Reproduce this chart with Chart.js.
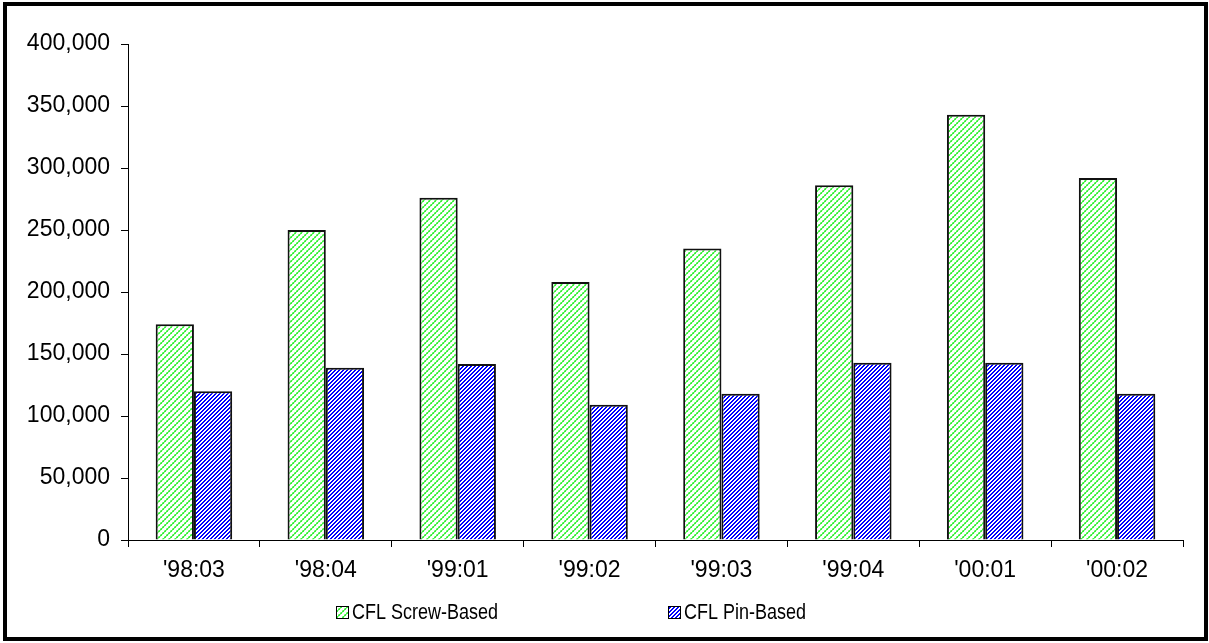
<!DOCTYPE html>
<html>
<head>
<meta charset="utf-8">
<script src="https://cdn.jsdelivr.net/npm/chart.js@4/dist/chart.umd.min.js"></script>
<style>
  html, body { margin: 0; padding: 0; background: #fff; }
  #wrap { position: relative; width: 1209px; height: 643px; }
  canvas { display: block; }
</style>
</head>
<body>
<div id="wrap"><canvas id="c" width="1209" height="643"></canvas></div>
<script>
// Quarterly shipments of compact fluorescent lamps
const quarters = ["'98:03", "'98:04", "'99:01", "'99:02", "'99:03", "'99:04", "'00:01", "'00:02"];
const screwBased = [174000, 250000, 276000, 208000, 235000, 286000, 343000, 292000];
const pinBased = [120000, 139000, 142000, 109000, 118000, 143000, 143000, 118000];
const seriesNames = ['CFL Screw-Based', 'CFL Pin-Based'];
const yTicks = [0, 50000, 100000, 150000, 200000, 250000, 300000, 350000, 400000];

const FONT = 'Liberation Sans, Arial, sans-serif';

// Fill patterns: green stepped diagonal on white, blue diagonal hatching on white
function makeTile(size, paint) {
  const t = document.createElement('canvas');
  t.width = size; t.height = size;
  const g = t.getContext('2d');
  g.fillStyle = '#ffffff';
  g.fillRect(0, 0, size, size);
  paint(g);
  return t;
}
const ctx = document.getElementById('c').getContext('2d');

const greenTile = makeTile(6, g => {
  const dark = [[0,5],[1,5],[1,4],[2,3],[3,3],[3,2],[4,1],[5,1],[5,0]];
  g.fillStyle = '#3cf03c';
  dark.forEach(([x, y]) => g.fillRect(x, y, 1, 1));
  g.fillStyle = '#9cfb9c';
  [[2,4],[4,2],[0,0],[0,4],[2,2],[4,0]].forEach(([x, y]) => g.fillRect(x, y, 1, 1));
});
const blueTile = makeTile(4, g => {
  g.fillStyle = '#0000ff';
  for (let x = 0; x < 4; x++) for (let y = 0; y < 4; y++) {
    if ((x + y) % 4 < 2) g.fillRect(x, y, 1, 1);
  }
});
const greenFill = ctx.createPattern(greenTile, 'repeat');
const blueFill = ctx.createPattern(blueTile, 'repeat');
const fills = [greenFill, blueFill];

// White page, thick outer frame and legend row
const framePlugin = {
  id: 'frame',
  beforeDraw(chart) {
    const c = chart.ctx;
    c.save();
    c.fillStyle = '#fff';
    c.fillRect(0, 0, chart.width, chart.height);
    c.restore();
  },
  afterDraw(chart) {
    const c = chart.ctx;
    c.save();
    c.strokeStyle = '#000';
    c.lineWidth = 4;
    c.strokeRect(5, 4, 1201, 635);

    const items = [{ x: 336 }, { x: 668 }];
    items.forEach((it, i) => {
      c.fillStyle = fills[i];
      c.fillRect(it.x, 606, 13, 13);
      c.strokeStyle = '#000';
      c.lineWidth = 1;
      c.strokeRect(it.x + 0.5, 606.5, 12, 12);
      // legend text: narrow face, taller glyphs
      c.save();
      c.translate(it.x + 16, 612.5);
      c.scale(1, 1.22);
      c.font = '18px ' + FONT;
      c.textBaseline = 'middle';
      c.textAlign = 'left';
      c.fillStyle = '#000';
      c.fillText(seriesNames[i], 0, 0);
      c.restore();
    });
    c.restore();
  }
};

new Chart(ctx, {
  type: 'bar',
  data: {
    labels: quarters,
    datasets: [
      { label: seriesNames[0], data: screwBased, backgroundColor: greenFill, borderColor: '#111', borderWidth: 2 },
      { label: seriesNames[1], data: pinBased, backgroundColor: blueFill, borderColor: '#111', borderWidth: 2 }
    ]
  },
  options: {
    responsive: false,
    animation: false,
    layout: { padding: { left: 0, right: 26, top: 44, bottom: 0 } },
    datasets: { bar: { categoryPercentage: 0.58, barPercentage: 1.0 } },
    plugins: { legend: { display: false }, tooltip: { enabled: false } },
    scales: {
      x: {
        grid: { drawOnChartArea: false, drawTicks: true, tickLength: 7, color: '#000', offset: true },
        border: { display: true, color: '#000', width: 1 },
        ticks: { color: '#000', font: { family: FONT, size: 23 }, padding: 10, maxRotation: 0 },
        afterFit(scale) { scale.height = 103; }
      },
      y: {
        min: 0, max: 400000,
        afterBuildTicks(scale) { scale.ticks = yTicks.map(v => ({ value: v })); },
        grid: { drawOnChartArea: false, drawTicks: true, tickLength: 7, color: '#000' },
        border: { display: true, color: '#000', width: 1 },
        ticks: {
          color: '#000', font: { family: FONT, size: 23 }, padding: 11,
          callback: v => v.toLocaleString('en-US')
        },
        afterFit(scale) { scale.width = 128; }
      }
    }
  },
  plugins: [framePlugin]
});
</script>
</body>
</html>
